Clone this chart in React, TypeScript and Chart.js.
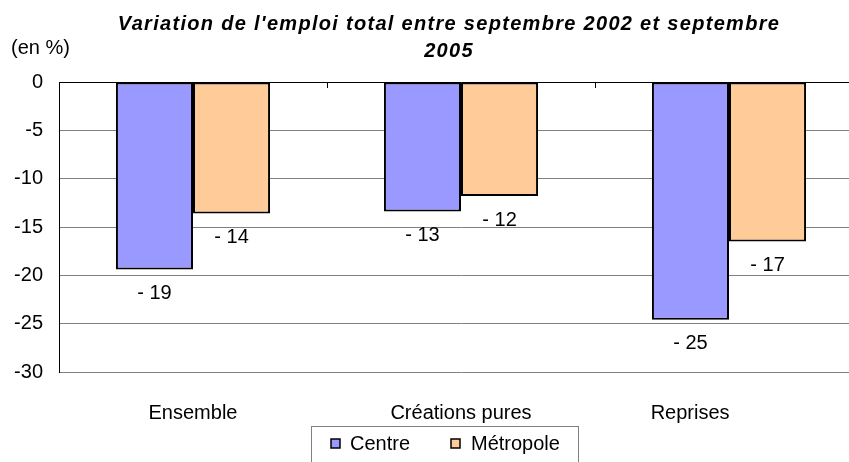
import React, { useEffect, useRef } from "react";
import { Chart, registerables } from "chart.js";

Chart.register(...registerables);

const categories = ["Ensemble", "Créations pures", "Reprises"];
const seriesNames = ["Centre", "Métropole"];
const centreValues = [-19.4, -13.4, -24.6];
const metropoleValues = [-13.6, -11.8, -16.5];
const titleLines = ["Variation de l'emploi total entre septembre 2002 et septembre", "2005"];
const unitLabel = "(en %)";
const yMin = -30;
const yMax = 0;
const yStep = 5;

const COLORS = ["#9999FF", "#FFCC99"];
const FONT = "'Liberation Sans', Arial, sans-serif";

const fmt = (v: number) => "- " + Math.round(Math.abs(v));

const decorPlugin = {
  id: "decor",
  afterDraw(chart: any) {
    const ctx = chart.ctx;
    const xs = chart.scales.x;
    const ys = chart.scales.y;
    ctx.save();
    // title
    ctx.fillStyle = "#000";
    ctx.textAlign = "center";
    ctx.textBaseline = "middle";
    ctx.font = `italic bold 20px ${FONT}`;
    try { (ctx as any).letterSpacing = "1.3px"; } catch (e) {}
    ctx.fillText(titleLines[0], 449, 24);
    ctx.fillText(titleLines[1], 449, 51);
    try { (ctx as any).letterSpacing = "0px"; } catch (e) {}
    // unit
    ctx.font = `20px ${FONT}`;
    ctx.textAlign = "left";
    ctx.fillText(unitLabel, 11, 48);

    // tick marks at category boundaries on zero line
    const y0 = ys.getPixelForValue(0);
    ctx.strokeStyle = "#000";
    ctx.lineWidth = 1;
    for (let i = 1; i < categories.length; i++) {
      const xb = Math.round((xs.getPixelForTick(i - 1) + xs.getPixelForTick(i)) / 2) + 0.5;
      ctx.beginPath();
      ctx.moveTo(xb, y0);
      ctx.lineTo(xb, y0 + 6);
      ctx.stroke();
    }

    // data labels
    ctx.font = `20px ${FONT}`;
    ctx.textAlign = "center";
    ctx.textBaseline = "middle";
    ctx.fillStyle = "#000";
    chart.data.datasets.forEach((ds: any, di: number) => {
      const meta = chart.getDatasetMeta(di);
      meta.data.forEach((el: any, i: number) => {
        ctx.fillText(fmt(ds.data[i]), el.x, el.y + 24);
      });
    });

    // legend
    const lx = 311.5, ly = 426.5, lw = 267, lh = 50;
    ctx.strokeStyle = "#808080";
    ctx.lineWidth = 1;
    ctx.strokeRect(lx, ly, lw, lh);
    const items = [
      { x: 331, tx: 350 },
      { x: 451, tx: 471 },
    ];
    chart.data.datasets.forEach((ds: any, di: number) => {
      const it = items[di];
      ctx.fillStyle = ds.backgroundColor;
      ctx.fillRect(it.x, 439, 9, 9);
      ctx.strokeStyle = "#000";
      ctx.lineWidth = 1.5;
      ctx.strokeRect(it.x, 439, 9, 9);
      ctx.fillStyle = "#000";
      ctx.textAlign = "left";
      ctx.textBaseline = "middle";
      ctx.font = `20px ${FONT}`;
      ctx.fillText(ds.label, it.tx, 444);
    });
    ctx.restore();
  },
};

export default function App() {
  const ref = useRef<HTMLCanvasElement | null>(null);
  useEffect(() => {
    if (!ref.current) return;
    const chart = new Chart(ref.current, {
      type: "bar",
      data: {
        labels: categories,
        datasets: [
          {
            label: seriesNames[0],
            data: centreValues,
            backgroundColor: COLORS[0],
            borderColor: "#000",
            borderWidth: 2,
            borderSkipped: false,
            barPercentage: 1,
            categoryPercentage: 0.575,
          },
          {
            label: seriesNames[1],
            data: metropoleValues,
            backgroundColor: COLORS[1],
            borderColor: "#000",
            borderWidth: 2,
            borderSkipped: false,
            barPercentage: 1,
            categoryPercentage: 0.575,
          },
        ],
      },
      options: {
        responsive: false,
        animation: false,
        devicePixelRatio: 1,
        layout: { padding: { top: 82, right: 7, bottom: 0, left: 0 } },
        plugins: {
          legend: { display: false },
          title: { display: false },
          tooltip: { enabled: false },
        },
        scales: {
          x: {
            grid: { display: false },
            border: { display: false },
            ticks: {
              color: "#000",
              font: { family: FONT, size: 20 },
              padding: 21,
              maxRotation: 0,
              autoSkip: false,
              // last label sits left of its group in the original (clipped plot area)
              callback: (_v: any, i: number) =>
                i === categories.length - 1 ? categories[i] + "              " : categories[i],
            },
            afterFit: (s: any) => { s.height = 90; },
          },
          y: {
            min: yMin,
            max: yMax,
            grid: {
              color: (c: any) => (c.tick && c.tick.value === 0 ? "#000" : "#808080"),
              lineWidth: 1,
              drawTicks: false,
            },
            border: { display: true, color: "#000", width: 1 },
            ticks: {
              stepSize: yStep,
              color: "#000",
              font: { family: FONT, size: 20 },
              padding: 16,
            },
            afterFit: (s: any) => { s.width = 59; },
          },
        },
      },
      plugins: [decorPlugin],
    });
    return () => chart.destroy();
  }, []);
  return (
    <div style={{ position: "absolute", left: 0, top: 0, width: 849, height: 462, overflow: "hidden", background: "#fff" }}>
      <canvas ref={ref} width={870} height={462} style={{ display: "block", width: 870, height: 462 }} />
    </div>
  );
}
